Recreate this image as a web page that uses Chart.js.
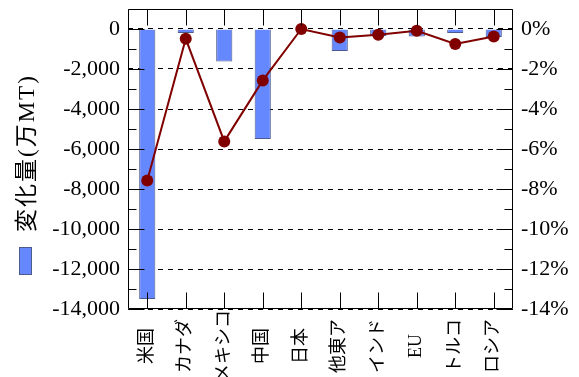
<!DOCTYPE html>
<html>
<head>
<meta charset="utf-8">
<script src="https://cdn.jsdelivr.net/npm/chart.js@4"></script>
<style>
  html, body { margin: 0; padding: 0; background: #fff; }
</style>
</head>
<body>
<canvas id="chart" width="579" height="377"></canvas>
<script>
const categories = ["米国", "カナダ", "メキシコ", "中国", "日本", "他東ア", "インド", "EU", "トルコ", "ロシア"];
// change in volume, 万MT (bars, left axis)
const volumeChange = [-13500, -200, -1620, -5500, 0, -1100, -350, -380, -200, -400];
// change rate, % (line, right axis)
const rateChange = [-7.58, -0.49, -5.62, -2.57, 0.0, -0.42, -0.29, -0.09, -0.75, -0.37];
const volumeLabel = "変化量(万MT)";
const volumeTicks = [0, -2000, -4000, -6000, -8000, -10000, -12000, -14000];
const rateTicks = [0, -2, -4, -6, -8, -10, -12, -14];

const serif = "'Liberation Serif', 'Noto Sans CJK JP', serif";
const barFill = "#6688ff";
const barEdge = "#4d5a8c";
const lineColor = "#800000";

// box around the plot with inward tick marks (gnuplot style)
const frameTicks = {
    id: "frameTicks",
    afterDatasetsDraw(chart) {
        const { ctx, chartArea: a, scales } = chart;
        const L = Math.round(a.left) + 0.5, R = Math.round(a.right) - 0.5;
        const T = Math.round(a.top) + 0.5, B = Math.round(a.bottom) - 0.5;
        ctx.save();
        ctx.strokeStyle = "#000";
        ctx.lineWidth = 1;
        ctx.beginPath();
        ctx.rect(L, T, R - L, B - T);
        for (let v = -14000; v <= 1000; v += 1000) {
            const y = Math.round(scales.y.getPixelForValue(v)) + 0.5;
            const len = v % 2000 === 0 ? 16 : 8;
            ctx.moveTo(L, y); ctx.lineTo(L + len, y);
            ctx.moveTo(R, y); ctx.lineTo(R - len, y);
        }
        categories.forEach((c, i) => {
            const x = Math.round(scales.x.getPixelForValue(i)) + 0.5;
            ctx.moveTo(x, T); ctx.lineTo(x, T + 16);
            ctx.moveTo(x, B); ctx.lineTo(x, B - 16);
        });
        ctx.stroke();
        ctx.restore();
    }
};

// category names, rotated and centred under each tick
const categoryLabels = {
    id: "categoryLabels",
    afterDraw(chart) {
        const { ctx, scales } = chart;
        ctx.save();
        ctx.fillStyle = "#000";
        ctx.font = "18px " + serif;
        ctx.textAlign = "center";
        ctx.textBaseline = "middle";
        categories.forEach((c, i) => {
            ctx.save();
            ctx.translate(scales.x.getPixelForValue(i), 346);
            ctx.rotate(-Math.PI / 2);
            ctx.fillText(c, 0, 0);
            ctx.restore();
        });
        ctx.restore();
    }
};

// vertical legend on the left side
const sideLegend = {
    id: "sideLegend",
    afterDraw(chart) {
        const { ctx } = chart;
        const ds = chart.data.datasets[0];
        ctx.save();
        ctx.translate(25.5, 275);
        ctx.rotate(-Math.PI / 2);
        ctx.fillStyle = ds.backgroundColor;
        ctx.fillRect(0, -6.5, 28, 13);
        ctx.strokeStyle = ds.borderColor;
        ctx.lineWidth = 1;
        ctx.strokeRect(0.5, -6, 27, 12);
        ctx.fillStyle = "#000";
        ctx.font = "23px " + serif;
        ctx.letterSpacing = "2px";
        ctx.textBaseline = "middle";
        ctx.fillText(ds.label, 43, 2.5);
        ctx.restore();
    }
};

const noPad = s => { s.paddingTop = 0; s.paddingBottom = 0; s.paddingLeft = 0; s.paddingRight = 0; };

const ctx = document.getElementById("chart").getContext("2d");

new Chart(ctx, {
    type: "bar",
    data: {
        labels: categories,
        datasets: [
            {
                type: "bar",
                label: volumeLabel,
                data: volumeChange,
                backgroundColor: barFill,
                borderColor: barEdge,
                borderWidth: 1,
                categoryPercentage: 1,
                barPercentage: 0.42,
                yAxisID: "y",
                order: 1
            },
            {
                type: "line",
                label: "変化率",
                data: rateChange,
                borderColor: lineColor,
                borderWidth: 2,
                pointRadius: 6,
                pointBackgroundColor: lineColor,
                pointBorderWidth: 0,
                tension: 0,
                yAxisID: "y2",
                order: 0
            }
        ]
    },
    options: {
        responsive: false,
        animation: false,
        layout: { padding: { top: 9, left: 0, right: 0, bottom: 0 } },
        plugins: {
            legend: { display: false },
            tooltip: { enabled: false }
        },
        scales: {
            x: {
                grid: { display: false },
                border: { display: false },
                ticks: { display: false },
                afterFit: s => { noPad(s); s.height = 68; }
            },
            y: {
                position: "left",
                min: -14000,
                max: 1000,
                grid: { color: "#000", lineWidth: 1, drawTicks: false },
                border: { display: false, dash: [5, 5] },
                ticks: {
                    color: "#000",
                    font: { family: serif, size: 22 },
                    padding: 8,
                    callback: v => v.toLocaleString("en-US")
                },
                afterBuildTicks: s => { s.ticks = volumeTicks.map(v => ({ value: v })); },
                afterFit: s => { noPad(s); s.width = 128; }
            },
            y2: {
                position: "right",
                min: -14,
                max: 1,
                grid: { display: false, drawTicks: false },
                border: { display: false },
                ticks: {
                    color: "#000",
                    font: { family: serif, size: 22 },
                    padding: 8,
                    callback: v => v + "%"
                },
                afterBuildTicks: s => { s.ticks = rateTicks.map(v => ({ value: v })); },
                afterFit: s => { noPad(s); s.width = 66; }
            }
        }
    },
    plugins: [frameTicks, categoryLabels, sideLegend]
});
</script>
</body>
</html>
